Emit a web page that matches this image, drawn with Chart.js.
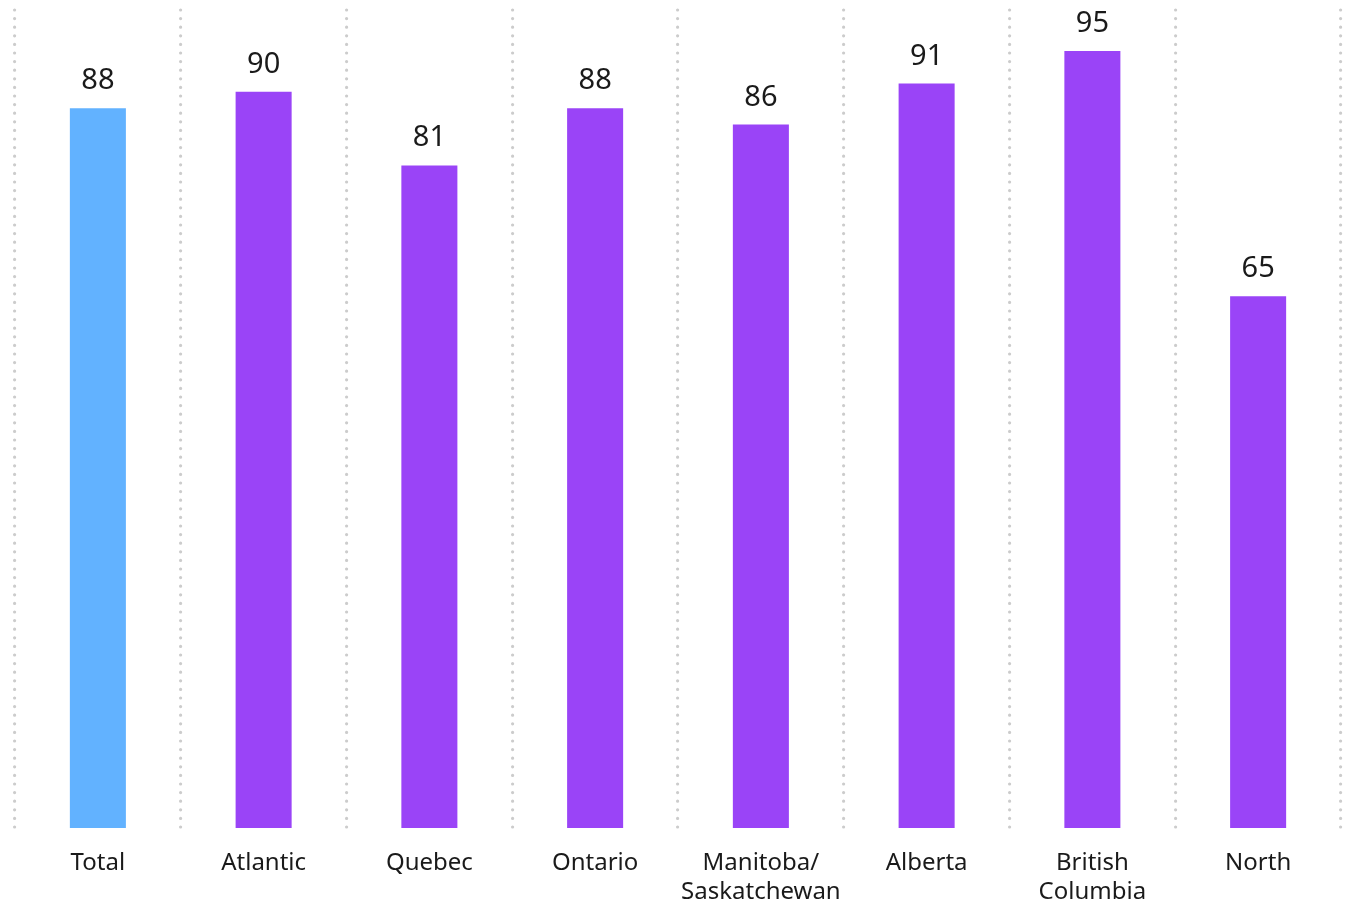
<!DOCTYPE html>
<html>
<head>
<meta charset="utf-8">
<script src="https://cdn.jsdelivr.net/npm/chart.js@4/dist/chart.umd.min.js"></script>
<style>
html,body{margin:0;padding:0;background:#fff;}
#wrap{width:1348px;height:903px;position:relative;}
</style>
</head>
<body>
<div id="wrap"><canvas id="c"></canvas></div>
<script>
const categories = ['Total', 'Atlantic', 'Quebec', 'Ontario', ['Manitoba/', 'Saskatchewan'], 'Alberta', ['British', 'Columbia'], 'North'];
const values = [88, 90, 81, 88, 86, 91, 95, 65];
const barColors = ['#62B2FF', '#9A44F7', '#9A44F7', '#9A44F7', '#9A44F7', '#9A44F7', '#9A44F7', '#9A44F7'];

const FONT = '"Noto Sans", sans-serif';

const roundCap = {
  id: 'roundCap',
  beforeDraw(chart) { chart.ctx.lineCap = 'round'; }
};

const valueLabels = {
  id: 'valueLabels',
  afterDatasetsDraw(chart) {
    const ctx = chart.ctx;
    const meta = chart.getDatasetMeta(0);
    ctx.save();
    ctx.font = '29px ' + FONT;
    ctx.fillStyle = '#1a1a1a';
    ctx.textAlign = 'center';
    ctx.textBaseline = 'alphabetic';
    meta.data.forEach((bar, i) => {
      ctx.fillText(String(values[i]), bar.x, bar.y - 19);
    });
    ctx.restore();
  }
};

new Chart(document.getElementById('c'), {
  type: 'bar',
  data: {
    labels: categories,
    datasets: [{
      data: values,
      backgroundColor: barColors,
      borderWidth: 0,
      barPercentage: 0.338,
      categoryPercentage: 1
    }]
  },
  options: {
    responsive: true,
    maintainAspectRatio: false,
    animation: false,
    layout: { padding: { left: 15, right: 7, top: 10, bottom: 0 } },
    plugins: { legend: { display: false }, tooltip: { enabled: false } },
    scales: {
      x: {
        offset: true,
        afterFit(scale) { scale.height = 75; },
        border: { display: false, dash: [0, 8.6] },
        grid: {
          offset: true,
          drawTicks: false,
          color: '#cccccc',
          lineWidth: 3.2
        },
        ticks: {
          padding: 21,
          color: '#1a1a1a',
          font: { family: FONT, size: 24, lineHeight: 1.2 },
          maxRotation: 0,
          autoSkip: false
        }
      },
      y: {
        display: false,
        min: 0,
        max: 100
      }
    }
  },
  plugins: [roundCap, valueLabels]
});
</script>
</body>
</html>
